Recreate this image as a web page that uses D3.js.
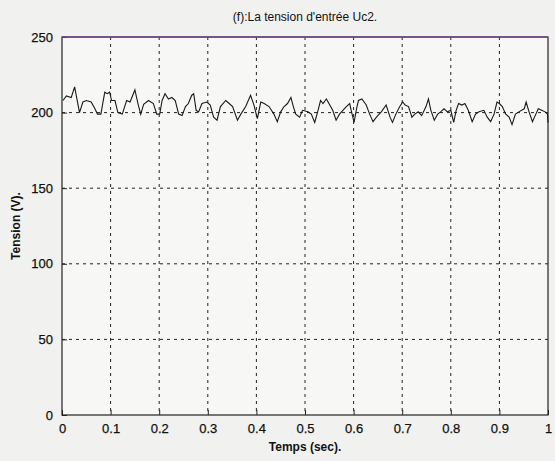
<!DOCTYPE html>
<html>
<head>
<meta charset="utf-8">
<script src="https://cdn.jsdelivr.net/npm/d3@7"></script>
<style>
  body { margin: 0; background: #f1f1ef; }
  svg { display: block; font-family: "Liberation Sans", Arial, sans-serif; }
  .grid line { stroke: #222; stroke-width: 1; stroke-dasharray: 3,4; }
  .tick text { fill: #111; font-size: 13px; stroke: #111; stroke-width: 0.25; }
</style>
</head>
<body>
<div id="chart"></div>
<script>
// Uc2 input voltage
var temps = [0.002, 0.009, 0.019, 0.026, 0.036, 0.043, 0.050, 0.060, 0.067, 0.073, 0.080, 0.088, 0.093, 0.098,
  0.102, 0.109, 0.115, 0.124, 0.133, 0.140, 0.150, 0.157, 0.162, 0.168, 0.178, 0.188, 0.195, 0.201, 0.206,
  0.212, 0.219, 0.226, 0.233, 0.240, 0.247, 0.254, 0.260, 0.267, 0.271, 0.276, 0.281, 0.288, 0.298, 0.305,
  0.312, 0.319, 0.326, 0.337, 0.344, 0.351, 0.361, 0.368, 0.378, 0.388, 0.395, 0.402, 0.409, 0.416, 0.426,
  0.436, 0.443, 0.450, 0.457, 0.464, 0.471, 0.476, 0.481, 0.489, 0.495, 0.506, 0.513, 0.520, 0.526, 0.532,
  0.537, 0.544, 0.551, 0.557, 0.564, 0.571, 0.578, 0.585, 0.592, 0.595, 0.601, 0.606, 0.610, 0.617, 0.626,
  0.633, 0.640, 0.647, 0.657, 0.667, 0.675, 0.680, 0.687, 0.695, 0.701, 0.706, 0.713, 0.720, 0.726, 0.733,
  0.740, 0.749, 0.754, 0.759, 0.766, 0.773, 0.779, 0.786, 0.793, 0.800, 0.806, 0.811, 0.816, 0.823, 0.829,
  0.836, 0.844, 0.851, 0.858, 0.868, 0.875, 0.882, 0.889, 0.895, 0.900, 0.906, 0.913, 0.920, 0.926, 0.933,
  0.940, 0.951, 0.955, 0.961, 0.968, 0.975, 0.980, 0.987, 0.994, 0.999, 1.000];
var tension = [208, 211, 210, 217, 200, 207, 208, 207, 203, 199, 199, 213.5, 212.5, 213.5,
  208, 208, 200, 199, 208, 207, 215, 205, 199, 205.5, 208, 206, 199, 199, 208,
  212.5, 209, 210, 208, 199, 198, 204, 206, 211.5, 212.5, 201.5, 200.5, 206, 207, 205,
  197, 195, 204, 208, 206, 204, 195, 199, 204, 211.5, 205, 196, 207, 206, 204,
  199, 194, 200.5, 204, 206, 210, 204, 199, 197, 201.5, 200.5, 199, 193.5, 200.5, 208,
  206, 209, 205, 201.5, 195, 199, 201.5, 204, 206, 201.5, 193.5, 202.5, 208, 209, 205,
  199, 194, 197, 200.5, 205, 197, 193.5, 199, 204, 207, 205, 204, 197, 199, 200.5,
  198, 204, 209, 201.5, 195, 199, 200.5, 202.5, 200.5, 201.5, 193.5, 201.5, 206, 205, 206,
  201.5, 194, 199, 200.5, 201.5, 197, 194, 199, 207, 206, 204, 199, 197, 192, 199,
  200.5, 202.5, 207, 200.5, 194, 199, 202.5, 201.5, 200.5, 199, 193.5];

var xTicks = [0, 0.1, 0.2, 0.3, 0.4, 0.5, 0.6, 0.7, 0.8, 0.9, 1];
var yTicks = [0, 50, 100, 150, 200, 250];
var titre = "(f):La tension d'entrée Uc2.";
var labelX = "Temps (sec).";
var labelY = "Tension (V).";

var width = 555, height = 461;
var margin = {top: 37, right: 7, bottom: 46, left: 62};
var w = width - margin.left - margin.right;
var h = height - margin.top - margin.bottom;

var svg = d3.select("#chart").append("svg")
    .attr("width", width)
    .attr("height", height);

var g = svg.append("g")
    .attr("transform", "translate(" + margin.left + "," + margin.top + ")");

var x = d3.scaleLinear().domain([0, 1]).range([0, w]);
var y = d3.scaleLinear().domain([0, 250]).range([h, 0]);

g.append("rect")
    .attr("width", w).attr("height", h)
    .attr("fill", "#f7f7f5");

// dotted grid
g.append("g").attr("class", "grid")
    .selectAll("line.gx")
    .data(xTicks.slice(1, -1))
    .enter().append("line")
    .attr("x1", d => x(d)).attr("x2", d => x(d))
    .attr("y1", 0).attr("y2", h);

g.append("g").attr("class", "grid")
    .selectAll("line.gy")
    .data(yTicks.slice(1, -1))
    .enter().append("line")
    .attr("y1", d => y(d)).attr("y2", d => y(d))
    .attr("x1", 0).attr("x2", w);

// axes, matlab style: ticks inside
var xAxis = g.append("g")
    .attr("transform", "translate(0," + h + ")")
    .call(d3.axisBottom(x).tickValues(xTicks).tickFormat(d3.format("")).tickSizeInner(-5).tickSizeOuter(0).tickPadding(9));
var yAxis = g.append("g")
    .call(d3.axisLeft(y).tickValues(yTicks).tickSizeInner(-5).tickSizeOuter(0).tickPadding(9));
[xAxis, yAxis].forEach(a => {
  a.select(".domain").remove();
  a.selectAll(".tick line").attr("stroke", "#222");
});

g.append("rect")
    .attr("width", w).attr("height", h)
    .attr("fill", "none")
    .attr("stroke", "#222")
    .attr("stroke-width", 1.2);

g.append("line")
    .attr("x1", 0).attr("x2", w).attr("y1", 0).attr("y2", 0)
    .attr("stroke", "#7a4a8c").attr("stroke-width", 1.4);

var line = d3.line()
    .x((d, i) => x(temps[i]))
    .y(d => y(d));

g.append("path")
    .datum(tension)
    .attr("d", line)
    .attr("fill", "none")
    .attr("stroke", "#1a1a1a")
    .attr("stroke-width", 1.1);

svg.append("text")
    .attr("x", margin.left + w / 2).attr("y", 21)
    .attr("text-anchor", "middle")
    .attr("font-size", 12)
    .attr("fill", "#111")
    .text(titre);

svg.append("text")
    .attr("x", margin.left + w / 2).attr("y", 451)
    .attr("text-anchor", "middle")
    .attr("font-size", 12)
    .attr("font-weight", "bold")
    .attr("fill", "#111")
    .text(labelX);

svg.append("text")
    .attr("transform", "translate(20," + (margin.top + h / 2) + ") rotate(-90)")
    .attr("text-anchor", "middle")
    .attr("font-size", 12)
    .attr("font-weight", "bold")
    .attr("fill", "#111")
    .text(labelY);
</script>
</body>
</html>
